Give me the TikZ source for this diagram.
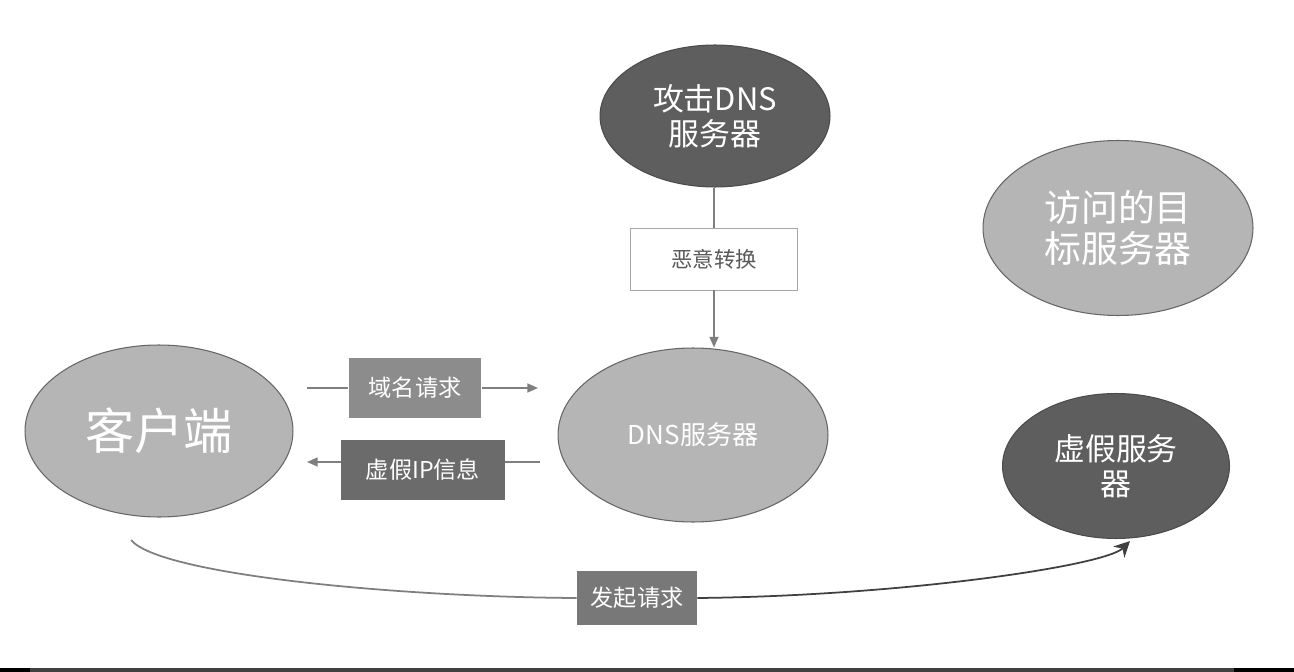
\documentclass[tikz,border=0pt]{standalone}
\usepackage{fontspec}
\newfontfamily\cjk{Noto Sans CJK SC}
\usepackage{tikz}
\usetikzlibrary{shapes.geometric}
\usetikzlibrary{arrows.meta}
\definecolor{lightball}{HTML}{B5B5B5}
\definecolor{darkball}{HTML}{5E5E5E}
\definecolor{linegray}{HTML}{7F7F7F}

\begin{document}
\begin{tikzpicture}[x=0.02cm,y=-0.02cm,
    ball/.style={ellipse,inner sep=0pt,align=center,text=white},
    light/.style={ball,fill=lightball,draw=gray!80!black,line width=0.6pt},
    dark/.style={ball,fill=darkball,draw=darkball!80!black,line width=0.6pt},
    tag/.style={rectangle,inner sep=0pt,text=white,font=\cjk\fontsize{13.2}{15}\selectfont},
    link/.style={linegray,line width=1pt},
    tip/.style={-{Triangle[length=6pt,width=5pt]}}]
            \useasboundingbox (0,0) rectangle (1294,672);
            \fill[white] (0,0) rectangle (1294,672);
            \fill[black!75] (0,668) rectangle (1294,672);
            \fill[black] (0,668) rectangle (30,672);
            \fill[black] (1234,668) rectangle (1294,672);

            \node[dark,minimum width=4.6cm,minimum height=2.84cm,font=\cjk\fontsize{17.6}{20}\selectfont] (attack) at (715,116) {攻击DNS\\服务器};
            \node[light,minimum width=5.4cm,minimum height=3.5cm,font=\cjk\fontsize{21}{23}\selectfont] (target) at (1118,228) {访问的目\\标服务器};
            \node[light,minimum width=5.36cm,minimum height=3.44cm,font=\cjk\fontsize{28}{30}\selectfont] (client) at (159,431) {客户端};
            \node[light,minimum width=5.4cm,minimum height=3.48cm,font=\cjk\fontsize{14.8}{17}\selectfont] (dns) at (693,435) {DNS服务器};
            \node[dark,minimum width=4.54cm,minimum height=2.9cm,font=\cjk\fontsize{17.6}{20}\selectfont] (fake) at (1116,466) {虚假服务\\器};

            \node[tag,fill=white,draw=gray!70,text=black!65,font=\cjk\fontsize{12.2}{14}\selectfont,minimum width=3.34cm,minimum height=1.24cm] (swap) at (714,259) {恶意转换};
            \node[tag,fill=black!45,minimum width=2.66cm,minimum height=1.22cm] (query) at (415,388) {域名请求};
            \node[tag,fill=black!58,minimum width=3.28cm,minimum height=1.2cm] (fakeip) at (423,470) {虚假IP信息};
            \node[tag,fill=black!53,minimum width=2.4cm,minimum height=1.08cm] (launch) at (637,598) {发起请求};

            \coordinate (ql) at (307,388);
            \coordinate (qr) at (538,388);
            \coordinate (pr) at (540,462);
            \coordinate (pl) at (307,462);
            \coordinate (cs) at (131,540);
            \coordinate (ce) at (1130,541);

            \draw[link](attack.south-|swap.north)--(swap.north);
            \draw[link,tip](swap.south)--(swap.south|-dns.north);

            \draw[link](ql)--(query.west);
            \draw[link,tip](query.east)--(qr);
            \draw[link](pr)--(pr-|fakeip.east);
            \draw[link,tip](pl-|fakeip.west)--(pl);

            \draw[link](cs)..controls(160,575)and(400,597)..(launch.west);
            \draw[link,-{Stealth[length=9pt,width=9pt]},black!75](launch.east)..controls(900,596)and(1105,566)..(ce);
        \end{tikzpicture}
\end{document}
